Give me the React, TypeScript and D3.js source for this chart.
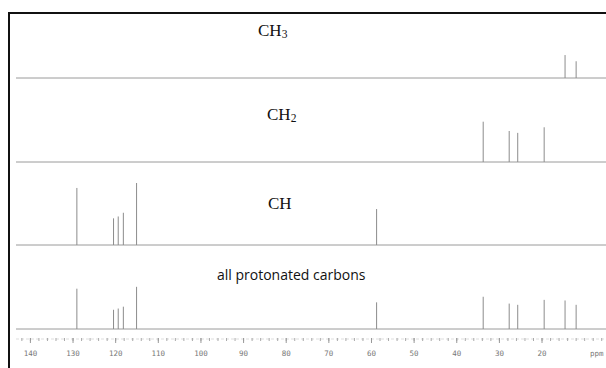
import * as d3 from 'd3'

// peak shifts (ppm) and relative intensities
const ch3Shifts = [14.6, 12.0]
const ch3Heights = [37, 27]

const ch2Shifts = [33.8, 27.7, 25.7, 19.5]
const ch2Heights = [65, 50, 47, 56]

const chShifts = [129.1, 120.5, 119.4, 118.2, 115.1, 58.8]
const chHeights = [92, 43, 46, 52, 100, 58]

const allShifts = [129.1, 120.5, 119.4, 118.2, 115.1, 58.8, 33.8, 27.7, 25.7, 19.5, 14.6, 12.0]
const allHeights = [65, 31, 33, 36, 68, 43, 52, 41, 39, 47, 46, 39]

const majorTicks = [140, 130, 120, 110, 100, 90, 80, 70, 60, 50, 40, 30, 20]
const minorTicks = d3.range(142, 5, -2)

const W = 606
const H = 368

export default function App() {
  const x = d3.scaleLinear().domain([140, 0]).range([30.4, 627.3])
  const h = d3.scaleLinear().domain([0, 100]).range([0, 62])

  const panels = [
    { label: 'CH', sub: '3', shifts: ch3Shifts, heights: ch3Heights, base: 78, ly: 36, lx: 258 },
    { label: 'CH', sub: '2', shifts: ch2Shifts, heights: ch2Heights, base: 162, ly: 120, lx: 267 },
    { label: 'CH', sub: '', shifts: chShifts, heights: chHeights, base: 245, ly: 209, lx: 268 },
    { label: '', sub: '', shifts: allShifts, heights: allHeights, base: 329, ly: 280, lx: 217 },
  ]

  const axisY = 339

  return (
    <svg width={W} height={H} style={{ position: 'absolute', left: 0, top: 0, background: '#fff' }}>
      {/* frame, cropped on the right and bottom */}
      <path d={`M9,${H} V13 H${W}`} fill="none" stroke="#111" strokeWidth={2} />

      {panels.map((p, i) => (
        <g key={i}>
          <line x1={16} x2={W} y1={p.base} y2={p.base} stroke="#9a9a9a" strokeWidth={1} />
          {p.shifts.map((s, j) => (
            <line
              key={j}
              x1={x(s)}
              x2={x(s)}
              y1={p.base}
              y2={p.base - h(p.heights[j])}
              stroke="#8c8c8c"
              strokeWidth={1}
            />
          ))}
          {p.label ? (
            <text x={p.lx} y={p.ly} fontFamily="Liberation Serif" fontSize={17} fill="#111">
              {p.label}
              {p.sub && (
                <tspan fontSize={11.5} dy={2}>
                  {p.sub}
                </tspan>
              )}
            </text>
          ) : (
            <text x={p.lx} y={p.ly} fontFamily="Open Sans" fontSize={14} fill="#111">
              all protonated carbons
            </text>
          )}
        </g>
      ))}

      {/* ppm axis */}
      <line x1={16} x2={W} y1={axisY} y2={axisY} stroke="#ddd" strokeWidth={1} strokeDasharray="3,2" />
      {minorTicks.map((t) => (
        <line key={t} x1={x(t)} x2={x(t)} y1={axisY - 1} y2={axisY + 2} stroke="#aaa" strokeWidth={1} />
      ))}
      {majorTicks.map((t) => (
        <g key={t}>
          <line x1={x(t)} x2={x(t)} y1={axisY - 1} y2={axisY + 4} stroke="#999" strokeWidth={1} />
          <text
            x={x(t)}
            y={356}
            textAnchor="middle"
            fontFamily="DejaVu Sans Mono"
            fontSize={7.5}
            fill="#777"
          >
            {t}
          </text>
        </g>
      ))}
      <text x={590} y={356} fontFamily="DejaVu Sans Mono" fontSize={7.5} fill="#777">
        ppm
      </text>
    </svg>
  )
}
